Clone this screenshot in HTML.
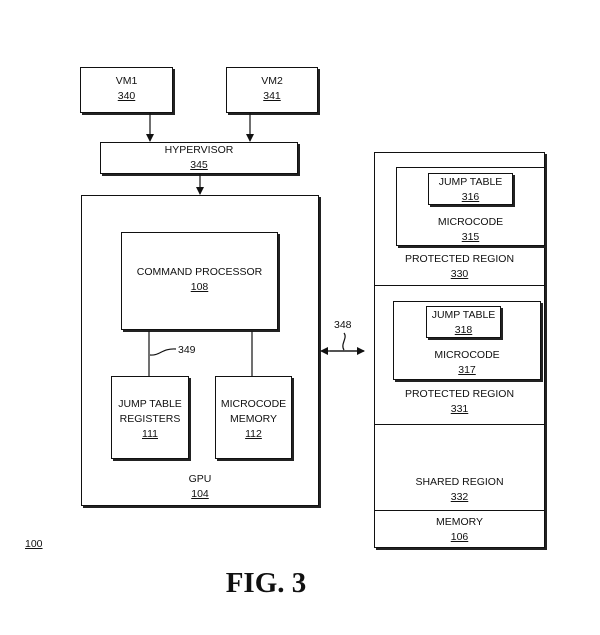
<!DOCTYPE html>
<html><head><style>
body{margin:0;width:600px;height:635px;background:#fff;position:relative;font-family:"Liberation Sans",sans-serif;font-size:10.5px;color:#111}
.b{position:absolute;border:1px solid #111;box-sizing:border-box;background:#fff}
.s{box-shadow:2px 2px 0 #222}
.t{position:absolute;text-align:center;line-height:15px;white-space:nowrap}
u{text-decoration:underline}
</style></head><body>
<div class="b s" style="left:80px;top:67px;width:93px;height:46px"></div>
<div class="t" style="left:80px;top:74px;width:93px">VM1<br><u>340</u></div>
<div class="b s" style="left:226px;top:67px;width:92px;height:46px"></div>
<div class="t" style="left:226px;top:74px;width:92px">VM2<br><u>341</u></div>
<div class="b s" style="left:100px;top:142px;width:198px;height:32px"></div>
<div class="t" style="left:100px;top:143px;width:198px">HYPERVISOR<br><u>345</u></div>
<div class="b s" style="left:81px;top:195px;width:238px;height:311px"></div>
<div class="b s" style="left:121px;top:232px;width:157px;height:98px"></div>
<div class="t" style="left:121px;top:265px;width:157px">COMMAND PROCESSOR<br><u>108</u></div>
<div class="b s" style="left:111px;top:376px;width:78px;height:83px"></div>
<div class="t" style="left:111px;top:397px;width:78px">JUMP TABLE<br>REGISTERS<br><u>111</u></div>
<div class="b s" style="left:215px;top:376px;width:77px;height:83px"></div>
<div class="t" style="left:215px;top:397px;width:77px">MICROCODE<br>MEMORY<br><u>112</u></div>
<div class="t" style="left:81px;top:472px;width:238px">GPU<br><u>104</u></div>
<div class="t" style="left:178px;top:343px">349</div>
<div class="t" style="left:334px;top:318px">348</div>
<div class="b s" style="left:374px;top:152px;width:171px;height:396px"></div>
<div style="position:absolute;left:374px;top:285px;width:171px;border-top:1px solid #111"></div>
<div style="position:absolute;left:374px;top:424px;width:171px;border-top:1px solid #111"></div>
<div style="position:absolute;left:374px;top:510px;width:171px;border-top:1px solid #111"></div>
<div class="b s" style="left:396px;top:167px;width:149px;height:79px"></div>
<div class="b s" style="left:428px;top:173px;width:85px;height:32px"></div>
<div class="t" style="left:428px;top:175px;width:85px">JUMP TABLE<br><u>316</u></div>
<div class="t" style="left:396px;top:215px;width:149px">MICROCODE<br><u>315</u></div>
<div class="t" style="left:374px;top:252px;width:171px">PROTECTED REGION<br><u>330</u></div>
<div class="b s" style="left:393px;top:301px;width:148px;height:79px"></div>
<div class="b s" style="left:426px;top:306px;width:75px;height:32px"></div>
<div class="t" style="left:426px;top:308px;width:75px">JUMP TABLE<br><u>318</u></div>
<div class="t" style="left:393px;top:348px;width:148px">MICROCODE<br><u>317</u></div>
<div class="t" style="left:374px;top:387px;width:171px">PROTECTED REGION<br><u>331</u></div>
<div class="t" style="left:374px;top:475px;width:171px">SHARED REGION<br><u>332</u></div>
<div class="t" style="left:374px;top:515px;width:171px">MEMORY<br><u>106</u></div>
<div class="t" style="left:25px;top:537px"><u>100</u></div>
<div class="t" style="left:200px;top:566px;width:132px;font-family:'Liberation Serif',serif;font-weight:bold;font-size:29px;line-height:34px">FIG. 3</div>
<svg style="position:absolute;left:0;top:0;z-index:5" width="600" height="635">
<defs><marker id="a" markerWidth="8" markerHeight="8" refX="7" refY="4" orient="auto" markerUnits="userSpaceOnUse"><path d="M0,0 L8,4 L0,8z" fill="#111"/></marker></defs>
<g stroke="#111" stroke-width="1.2" fill="none">
<line x1="150" y1="113" x2="150" y2="141" marker-end="url(#a)"/>
<line x1="250" y1="113" x2="250" y2="141" marker-end="url(#a)"/>
<line x1="200" y1="174" x2="200" y2="194" marker-end="url(#a)"/>
<line x1="149" y1="331" x2="149" y2="376"/>
<line x1="252" y1="331" x2="252" y2="376"/>
<path d="M150,355 C160,356 162,348 176,349"/>
<line x1="330" y1="351" x2="364" y2="351" marker-end="url(#a)"/>
<line x1="364" y1="351" x2="321" y2="351" marker-end="url(#a)"/>
<path d="M344,333 C348,338 340,344 344,350"/>
</g></svg>
</body></html>
